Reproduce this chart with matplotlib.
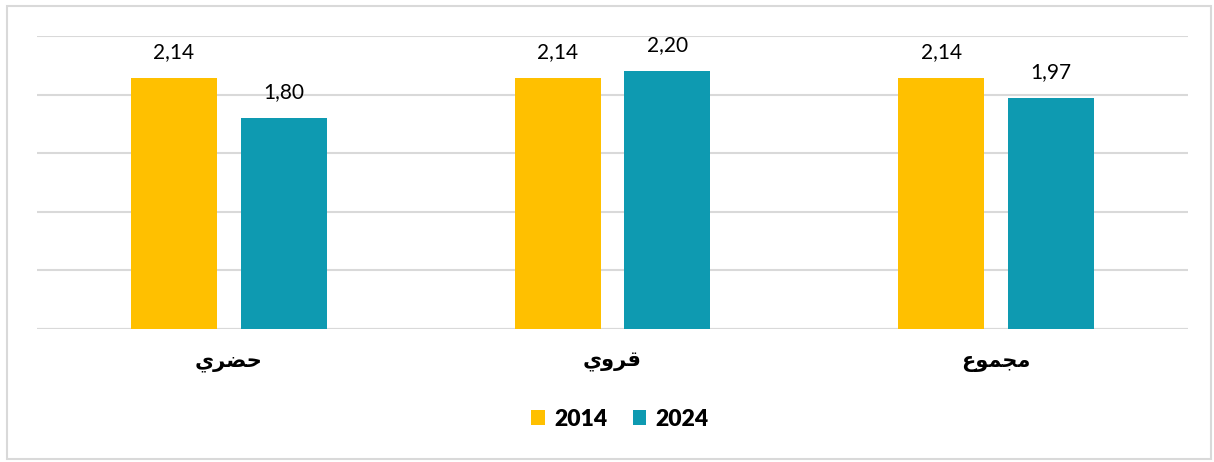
import matplotlib
matplotlib.use("Agg")
import matplotlib.pyplot as plt
import numpy as np
from matplotlib.patches import Rectangle

categories = ["حضري", "قروي", "مجموع"]
series_names = ["2014", "2024"]
values_2014 = [2.14, 2.14, 2.14]
values_2024 = [1.80, 2.20, 1.97]
colors = ["#FFC000", "#0E9AB1"]

# minimal Arabic shaping for display (isolated, final, initial, medial)
FORMS = {
    "ح": ("\uFEA1", "\uFEA2", "\uFEA3", "\uFEA4"),
    "ض": ("\uFEBD", "\uFEBE", "\uFEBF", "\uFEC0"),
    "ر": ("\uFEAD", "\uFEAE", None, None),
    "ي": ("\uFEF1", "\uFEF2", "\uFEF3", "\uFEF4"),
    "ق": ("\uFED5", "\uFED6", "\uFED7", "\uFED8"),
    "و": ("\uFEED", "\uFEEE", None, None),
    "م": ("\uFEE1", "\uFEE2", "\uFEE3", "\uFEE4"),
    "ج": ("\uFE9D", "\uFE9E", "\uFE9F", "\uFEA0"),
    "ع": ("\uFEC9", "\uFECA", "\uFECB", "\uFECC"),
}

def shape(word):
    out = []
    n = len(word)
    for i, ch in enumerate(word):
        f = FORMS[ch]
        prev_joins = i > 0 and FORMS[word[i - 1]][2] is not None
        next_exists = i < n - 1
        can_join_next = f[2] is not None and next_exists
        if prev_joins and can_join_next:
            out.append(f[3])
        elif prev_joins:
            out.append(f[1])
        elif can_join_next:
            out.append(f[2])
        else:
            out.append(f[0])
    return "".join(reversed(out))

fig = plt.figure(figsize=(12.14, 4.62), dpi=100)
ax = fig.add_axes([37 / 1214, 1 - 329 / 462, 1151 / 1214, 293 / 462])

x = np.arange(len(categories))
w = 0.224
off = 0.143
b1 = ax.bar(x - off, values_2014, w, color=colors[0], label=series_names[0], zorder=3)
b2 = ax.bar(x + off, values_2024, w, color=colors[1], label=series_names[1], zorder=3)

for bars, vals in ((b1, values_2014), (b2, values_2024)):
    for r, v in zip(bars, vals):
        ax.text(r.get_x() + r.get_width() / 2, v + 0.135, f"{v:.2f}".replace(".", ","),
                ha="center", va="bottom", fontsize=15, family="Lato", color="#000000")

ax.set_xlim(-0.5, 2.5)
ax.set_ylim(0, 2.5)
ax.set_yticks(np.arange(0, 2.51, 0.5))
ax.yaxis.grid(True, color="#D9D9D9", linewidth=1.5, zorder=0)
ax.tick_params(left=False, labelleft=False, bottom=False)
for s in ax.spines.values():
    s.set_visible(False)
ax.axhline(0, color="#D9D9D9", linewidth=1.5, zorder=2)

ax.set_xticks(x)
ax.set_xticklabels([shape(c) for c in categories], family="DejaVu Sans",
                   fontweight="bold", fontsize=15)
ax.tick_params(axis="x", pad=13)

leg = fig.legend(handles=[b1, b2], labels=series_names, loc="center",
                 bbox_to_anchor=(620 / 1214, 1 - 419 / 462), ncol=2, frameon=False,
                 prop={"family": "Lato", "weight": "heavy", "size": 16.5},
                 handlelength=0.6, handleheight=0.6, handletextpad=0.4, columnspacing=1.1)

fig.patches.append(Rectangle((7 / 1214, 3 / 462), 1204 / 1214, 453 / 462,
                             transform=fig.transFigure, fill=False,
                             edgecolor="#D9D9D9", linewidth=1.5))

fig.savefig("out.png", dpi=100, facecolor="white")
